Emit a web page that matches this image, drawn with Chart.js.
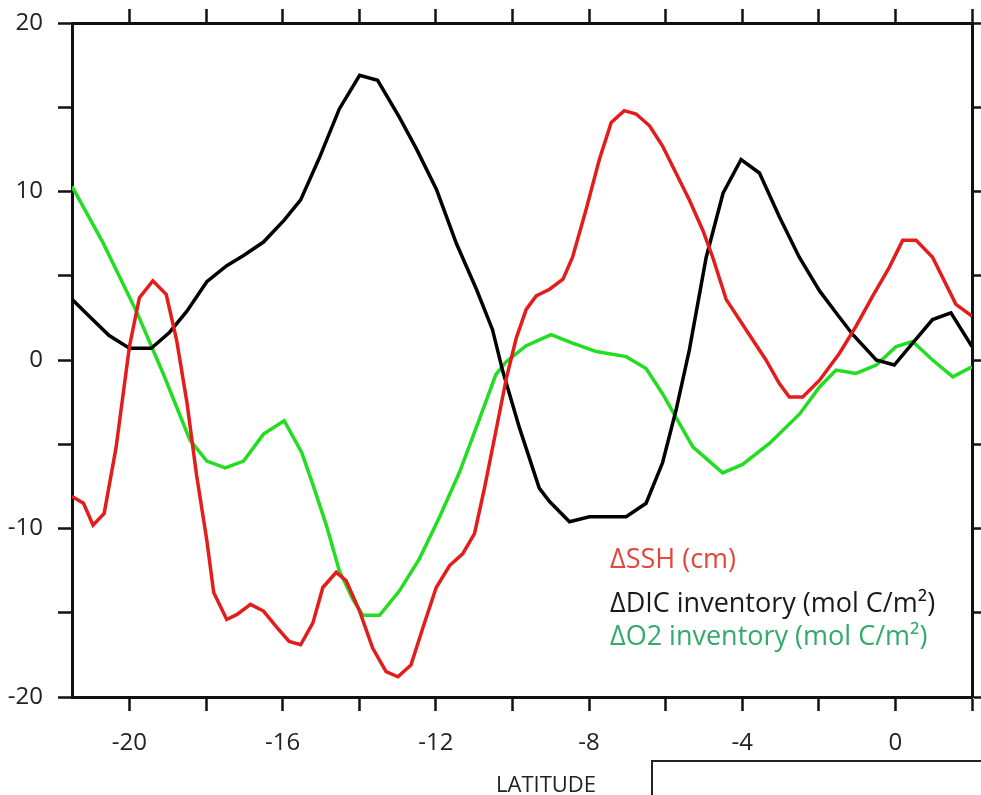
<!DOCTYPE html>
<html lang="en">
  <head>
    <meta charset="UTF-8" />
    <title>SSH DIC O2 latitude</title>
    <style>
      body { margin: 0; background: #fff; }
      #wrap { position: relative; width: 981px; height: 795px; overflow: hidden; }
      #panel { position: absolute; left: 651px; top: 760px; width: 340px; height: 60px; border: 2px solid #222; box-sizing: border-box; }
    </style>
  </head>
  <body>
    <div id="wrap">
      <canvas id="chart" width="981" height="795"></canvas>
      <div id="panel"></div>
    </div>
    <script src="https://cdn.jsdelivr.net/npm/chart.js"></script>
    <script>
      // values
      const sshLat = [-21.5, -21.2, -20.95, -20.66, -20.35, -20.0, -19.74, -19.39, -19.04, -18.77, -18.5, -18.25, -17.98, -17.8, -17.46, -17.19, -16.84, -16.5, -16.14, -15.83, -15.53, -15.21, -14.95, -14.6, -14.34, -13.99, -13.65, -13.3, -12.99, -12.65, -12.34, -11.99, -11.64, -11.3, -10.99, -10.73, -10.43, -10.16, -9.9, -9.64, -9.38, -9.03, -8.68, -8.43, -8.08, -7.73, -7.42, -7.08, -6.77, -6.42, -6.08, -5.73, -5.38, -5.03, -4.77, -4.42, -3.9, -3.38, -3.03, -2.77, -2.42, -1.98, -1.46, -1.03, -0.59, -0.16, 0.19, 0.54, 0.97, 1.58, 2.0];
      const sshVal = [-8.1, -8.5, -9.8, -9.1, -5.2, 0.8, 3.7, 4.7, 3.9, 1.2, -2.5, -6.8, -10.7, -13.8, -15.4, -15.1, -14.5, -14.9, -15.9, -16.7, -16.9, -15.6, -13.5, -12.6, -13.1, -14.9, -17.1, -18.5, -18.8, -18.1, -15.9, -13.5, -12.2, -11.5, -10.3, -7.6, -4.2, -1.1, 1.3, 3.0, 3.8, 4.2, 4.8, 6.1, 8.9, 11.9, 14.1, 14.8, 14.6, 13.9, 12.7, 11.1, 9.5, 7.7, 6.1, 3.6, 1.8, 0.0, -1.4, -2.2, -2.2, -1.2, 0.4, 2.0, 3.8, 5.5, 7.1, 7.1, 6.1, 3.3, 2.6];

      const dicLat = [-21.5, -21.05, -20.53, -20.0, -19.43, -18.95, -18.5, -17.98, -17.46, -17.02, -16.5, -15.96, -15.53, -15.04, -14.52, -13.99, -13.52, -12.95, -12.5, -11.98, -11.46, -10.94, -10.52, -10.26, -9.82, -9.3, -9.03, -8.51, -7.99, -7.03, -6.51, -6.08, -5.73, -5.38, -4.94, -4.5, -4.03, -3.55, -3.03, -2.51, -1.98, -1.55, -1.11, -0.5, -0.03, 0.45, 0.97, 1.45, 2.0];
      const dicVal = [3.6, 2.6, 1.45, 0.7, 0.7, 1.65, 2.9, 4.65, 5.6, 6.2, 7.0, 8.3, 9.5, 12.0, 14.9, 16.9, 16.6, 14.4, 12.5, 10.1, 6.9, 4.2, 1.8, -0.6, -4.0, -7.6, -8.4, -9.6, -9.3, -9.3, -8.5, -6.1, -3.0, 0.6, 6.1, 9.9, 11.9, 11.1, 8.5, 6.1, 4.1, 2.8, 1.5, 0.0, -0.3, 1.0, 2.4, 2.8, 0.8];

      const o2Lat = [-21.5, -20.7, -19.82, -19.12, -18.42, -17.98, -17.5, -17.02, -16.5, -15.96, -15.5, -15.21, -14.86, -14.52, -14.17, -13.91, -13.47, -12.95, -12.43, -11.9, -11.38, -10.86, -10.43, -10.16, -9.64, -8.99, -8.43, -7.81, -7.03, -6.51, -6.08, -5.73, -5.29, -4.51, -3.99, -3.29, -2.5, -1.98, -1.55, -1.03, -0.5, 0.02, 0.45, 0.97, 1.5, 2.0];
      const o2Val = [10.3, 7.0, 2.9, -0.8, -4.75, -6.0, -6.4, -6.0, -4.4, -3.6, -5.5, -7.4, -9.8, -12.5, -14.2, -15.15, -15.15, -13.7, -11.8, -9.3, -6.65, -3.5, -0.85, -0.1, 0.85, 1.5, 1.0, 0.5, 0.2, -0.5, -2.0, -3.4, -5.15, -6.7, -6.2, -4.95, -3.2, -1.6, -0.6, -0.8, -0.3, 0.8, 1.1, 0.0, -1.0, -0.4];

      const seriesNames = ['\u0394SSH (cm)', '\u0394DIC inventory (mol C/m\u00B2)', '\u0394O2 inventory (mol C/m\u00B2)'];
      const lineColors = ['#e31c1c', '#000000', '#22dd22'];
      const textColors = ['#e2483a', '#1a1a1a', '#33aa6c'];
      const xTitle = 'LATITUDE';

      function pairs(xs, ys) {
        return xs.map(function (x, i) { return { x: x, y: ys[i] }; });
      }

      const axisColor = '#111';
      const tickFont = { family: 'Open Sans', size: 24 };

      // fixed box sizes; drop the label padding so the plot frame lands where the original has it
      function fixH(h) {
        return function (s) { s.height = h; s.paddingLeft = 0; s.paddingRight = 0; };
      }
      function fixW(w) {
        return function (s) { s.width = w; s.paddingTop = 0; s.paddingBottom = 0; };
      }

      // legend without symbols + axis title placed off-centre, like the original
      const extraText = {
        id: 'extraText',
        afterDatasetsDraw(chart) {
          const ctx = chart.ctx;
          const ys = [568, 612, 645];
          ctx.save();
          ctx.font = '27px "Open Sans"';
          ctx.textBaseline = 'alphabetic';
          chart.data.datasets.forEach(function (ds, i) {
            ctx.fillStyle = textColors[i];
            ctx.fillText(ds.label, 610, ys[i]);
          });
          ctx.font = '22px "Open Sans"';
          ctx.fillStyle = '#222';
          ctx.textAlign = 'center';
          ctx.fillText(xTitle, 546, 792);
          ctx.restore();
        }
      };

      const config = {
        type: 'line',
        data: {
          datasets: [
            { label: seriesNames[0], data: pairs(sshLat, sshVal), borderColor: lineColors[0], borderWidth: 3.5 },
            { label: seriesNames[1], data: pairs(dicLat, dicVal), borderColor: lineColors[1], borderWidth: 3.5 },
            { label: seriesNames[2], data: pairs(o2Lat, o2Val), borderColor: lineColors[2], borderWidth: 3.5 }
          ]
        },
        options: {
          responsive: false,
          animation: false,
          layout: { padding: 0, autoPadding: false },
          elements: { point: { radius: 0, hoverRadius: 0 }, line: { tension: 0 } },
          plugins: { legend: { display: false }, tooltip: { enabled: false } },
          scales: {
            x: {
              type: 'linear', position: 'bottom', min: -21.5, max: 2,
              afterFit: fixH(98),
              border: { display: true, color: axisColor, width: 3 },
              grid: { drawOnChartArea: false, drawTicks: true, tickLength: 14, tickWidth: 2.5, tickColor: axisColor },
              ticks: {
                stepSize: 2, includeBounds: false, padding: 18, color: '#222', font: tickFont, maxRotation: 0, autoSkip: false,
                callback: function (v) { return v % 4 === 0 ? String(v) : ''; }
              }
            },
            x2: {
              type: 'linear', position: 'top', min: -21.5, max: 2,
              afterFit: fixH(23),
              border: { display: true, color: axisColor, width: 3 },
              grid: { drawOnChartArea: false, drawTicks: true, tickLength: 14, tickWidth: 2.5, tickColor: axisColor },
              ticks: { stepSize: 2, includeBounds: false, autoSkip: false, callback: function () { return ''; } }
            },
            y: {
              type: 'linear', position: 'left', min: -20, max: 20,
              afterFit: fixW(72),
              border: { display: true, color: axisColor, width: 3 },
              grid: { drawOnChartArea: false, drawTicks: true, tickLength: 14, tickWidth: 2.5, tickColor: axisColor },
              ticks: {
                stepSize: 5, padding: 15, color: '#222', font: tickFont, autoSkip: false,
                callback: function (v) { return v % 10 === 0 ? String(v) : ''; }
              }
            },
            y2: {
              type: 'linear', position: 'right', min: -20, max: 20,
              afterFit: fixW(9),
              border: { display: true, color: axisColor, width: 3 },
              grid: { drawOnChartArea: false, drawTicks: true, tickLength: 14, tickWidth: 2.5, tickColor: axisColor },
              ticks: { stepSize: 5, autoSkip: false, callback: function () { return ''; } }
            }
          }
        },
        plugins: [extraText]
      };

      new Chart(document.getElementById('chart'), config);
    </script>
  </body>
</html>
